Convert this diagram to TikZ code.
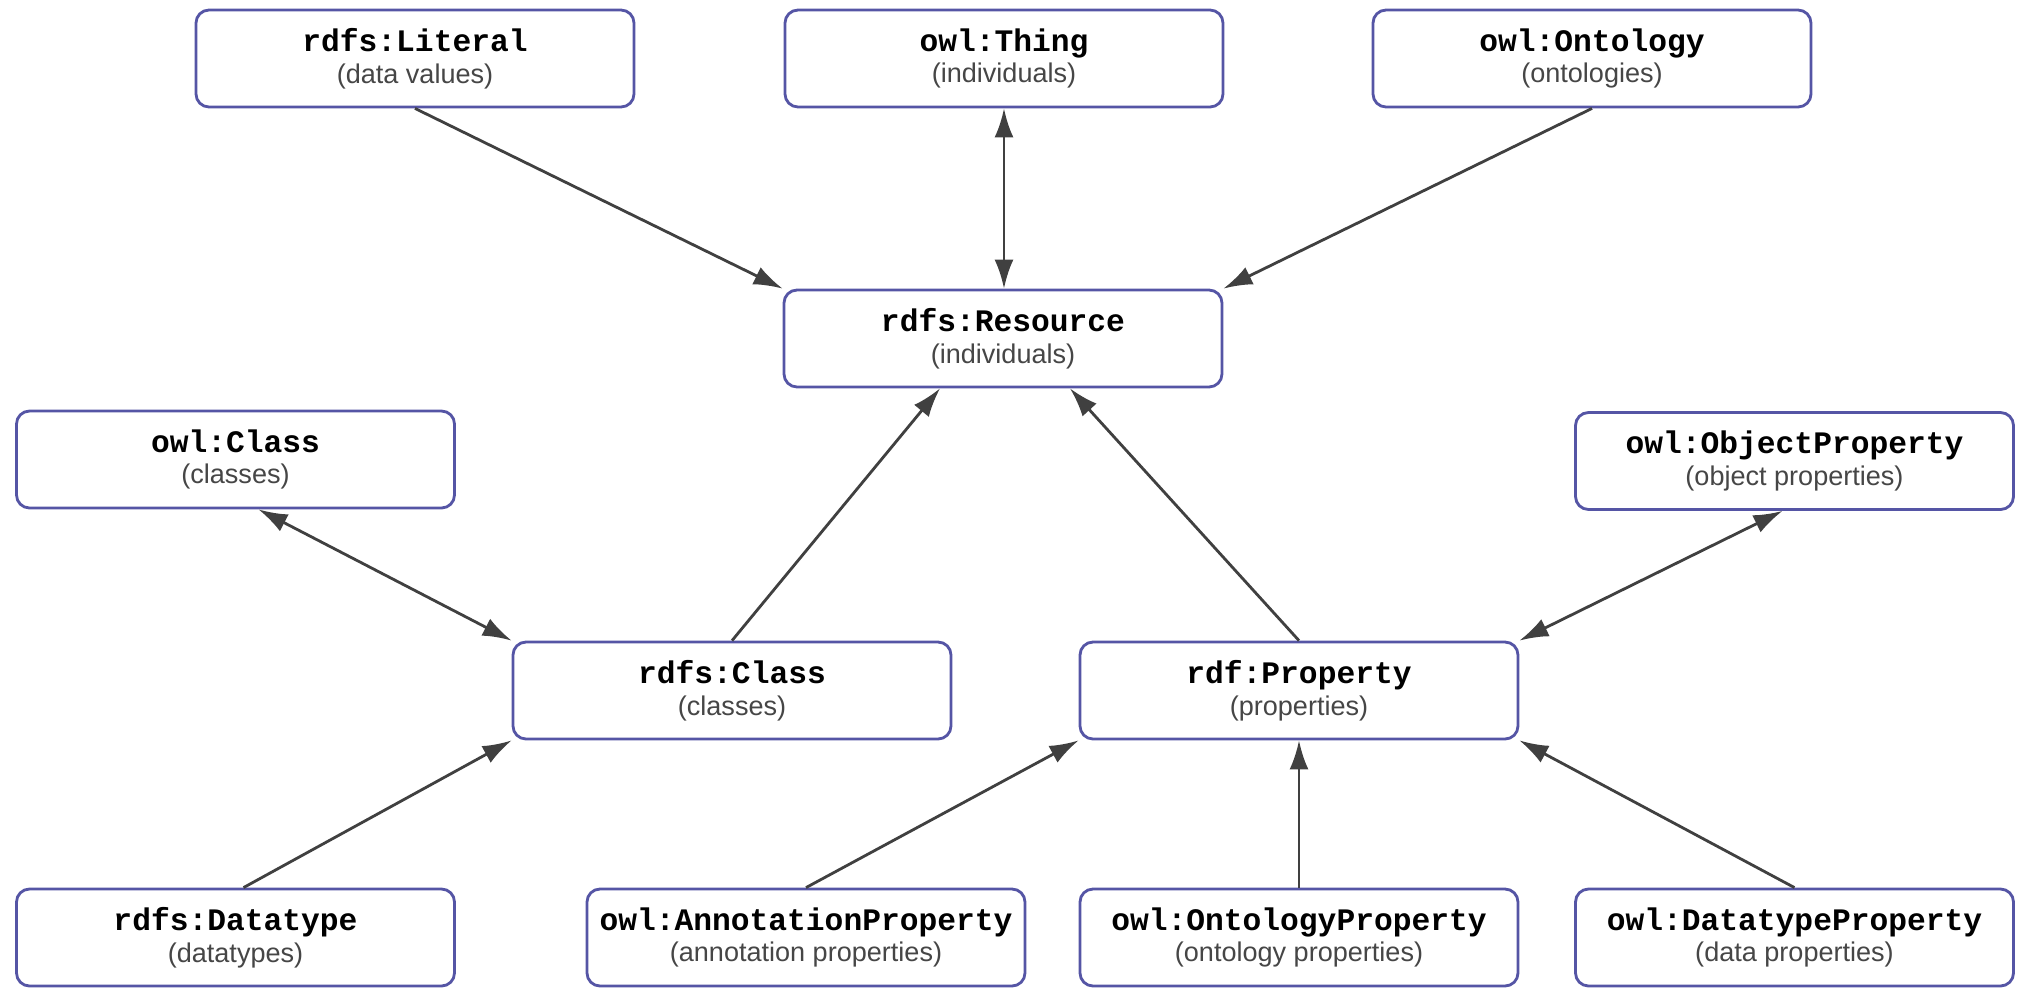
\documentclass[tikz,border=0pt]{standalone}
\usepackage{fontspec}
\setmonofont{Liberation Mono}
\setsansfont{Liberation Sans}
\usepackage{tikz}
\usetikzlibrary{arrows.meta}
\tikzset{>={Latex[width=1.9mm,length=2.9mm]}}
\definecolor{boxblue}{RGB}{85,85,165}
\definecolor{linegray}{RGB}{64,64,64}
\definecolor{subgray}{RGB}{70,70,70}
\newcommand{\term}[2]{{\ttfamily\bfseries #1}\\{\sffamily\fontsize{7.7}{9}\selectfont\color{subgray}#2}}

\begin{document}
\begin{tikzpicture}
    \tikzset{concept/.style={rectangle,minimum width=4.38cm,minimum height=0.97cm,rounded corners=1.3mm,draw=boxblue,line width=0.8pt,fill=white,align=center,inner sep=0pt,font=\fontsize{8.9}{9}\selectfont}}
    \tikzset{link/.style={draw=linegray,line width=0.8pt}}
    \useasboundingbox (0,0) rectangle (20.26,-9.89);
    % top row
    \draw (4.15,-0.585) node[concept](lit){\term{rdfs:Literal}{(data values)}};
    \draw (10.04,-0.585) node[concept](thing){\term{owl:Thing}{(individuals)}};
    \draw (15.92,-0.585) node[concept](onto){\term{owl:Ontology}{(ontologies)}};
    \draw (10.03,-3.385) node[concept](res){\term{rdfs:Resource}{(individuals)}};
    % middle
    \draw (2.355,-4.595) node[concept](owlcls){\term{owl:Class}{(classes)}};
    \draw (17.945,-4.61) node[concept](objprop){\term{owl:ObjectProperty}{(object properties)}};
    \draw (7.32,-6.905) node[concept](cls){\term{rdfs:Class}{(classes)}};
    \draw (12.99,-6.905) node[concept](prop){\term{rdf:Property}{(properties)}};
    % bottom row
    \draw (2.355,-9.375) node[concept](dtype){\term{rdfs:Datatype}{(datatypes)}};
    \draw (8.06,-9.375) node[concept](annprop){\term{owl:AnnotationProperty}{(annotation properties)}};
    \draw (12.99,-9.375) node[concept](ontprop){\term{owl:OntologyProperty}{(ontology properties)}};
    \draw (17.945,-9.375) node[concept](dataprop){\term{owl:DatatypeProperty}{(data properties)}};
    \draw[link,->](lit.south) -- (res.north west);
    \draw[link,<->](thing.south) -- (thing.south |- res.north);
    \draw[link,->](onto.south) -- (res.north east);
    \draw[link,->](cls.north) -- ([xshift=-0.63cm]res.south);
    \draw[link,->](prop.north) -- ([xshift=0.67cm]res.south);
    \draw[link,<->]([xshift=0.23cm]owlcls.south) -- (cls.north west);
    \draw[link,<->]([xshift=-0.12cm]objprop.south) -- (prop.north east);
    \draw[link,->]([xshift=0.08cm]dtype.north) -- (cls.south west);
    \draw[link,->](annprop.north) -- (prop.south west);
    \draw[link,->](ontprop.north) -- (prop.south);
    \draw[link,->](dataprop.north) -- (prop.south east);
\end{tikzpicture}
\end{document}
